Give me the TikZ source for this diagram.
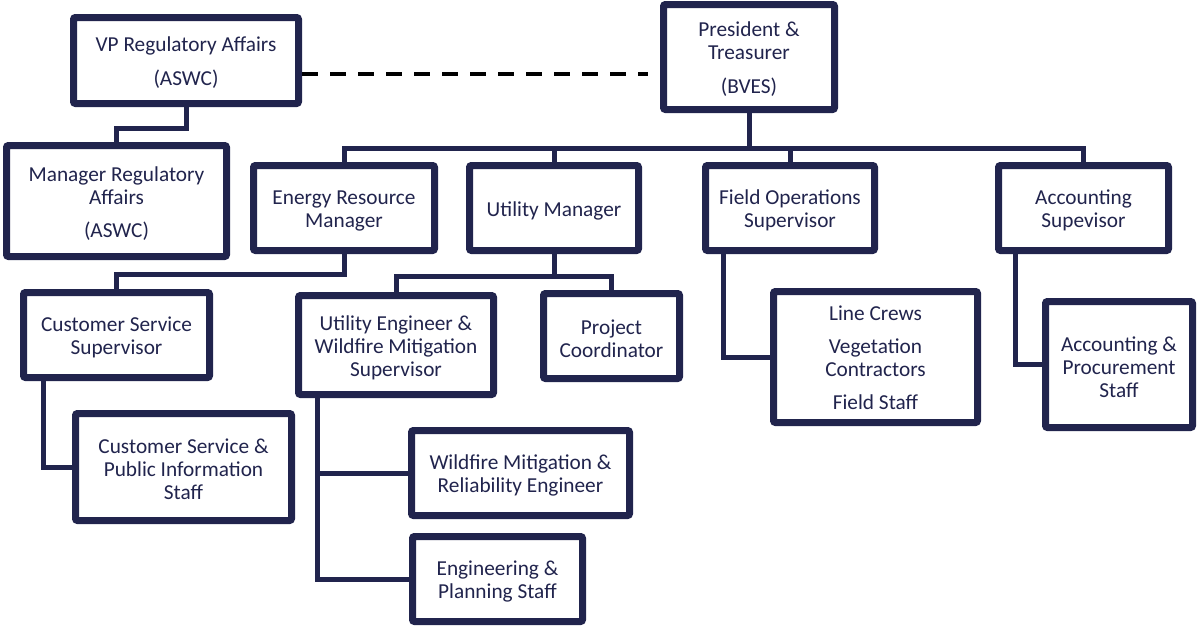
\documentclass[tikz,border=0pt]{standalone}
\usepackage{fontspec}
\setmainfont{Carlito}
\usetikzlibrary{shadows,calc}
\definecolor{navy}{HTML}{21244D}
\newcommand\obox[6][2.5]{%
  \node[box, minimum width=#4pt, minimum height=#5pt] (#2) at #3 {};
  \node[txt] (#2t) at ($(#2.center)+(0,#1)$) {#6};}
\begin{document}
\begin{tikzpicture}[x=1pt,y=-1pt,
  box/.style={draw=navy, line width=7pt, fill=white, rounded corners=2pt, inner sep=0pt,
    drop shadow={opacity=0.22, shadow xshift=1.5pt, shadow yshift=-3pt}},
  txt/.style={align=center, inner sep=0pt, text=navy, font=\fontsize{21.3}{23}\selectfont},
  conn/.style={draw=navy, line width=5pt},
  dashline/.style={draw=black, line width=4.5pt, dash pattern=on 16pt off 12pt}]
\path[use as bounding box] (0,0) rectangle (1197,627);

\obox{vp}{(186,60.5)}{225}{86}{VP Regulatory Affairs\\[11pt](ASWC)}
\obox{mra}{(116.5,201)}{220}{111}{Manager Regulatory\\Affairs\\[10pt](ASWC)}
\obox{pres}{(749,57)}{171}{105}{President \&\\Treasurer\\[11pt](BVES)}
\obox{erm}{(344,208)}{181}{85}{Energy Resource\\Manager}
\obox{um}{(554,208)}{169}{85}{Utility Manager}
\obox{fos}{(790,208)}{169}{85}{Field Operations\\Supervisor}
\obox{as}{(1083.5,208)}{170}{85}{Accounting\\Supevisor}
\obox{css}{(116.5,335)}{186}{85}{Customer Service\\Supervisor}
\obox{cspi}{(183.5,467)}{216}{107}{Customer Service \&\\Public Information\\Staff}
\obox{ue}{(396,345)}{195}{99}{Utility Engineer \&\\Wildfire Mitigation\\Supervisor}
\obox{pc}{(611.5,336)}{136}{85}{Project\\Coordinator}
\obox{wm}{(520.5,473)}{218}{85}{Wildfire Mitigation \&\\Reliability Engineer}
\obox{eps}{(497.5,579)}{170}{85}{Engineering \&\\Planning Staff}
\obox[0.5]{lc}{(875.5,357)}{204}{131}{Line Crews\\[10pt]Vegetation\\Contractors\\[10pt]Field Staff}
\obox{aps}{(1119,364.5)}{147}{126}{Accounting \&\\Procurement\\Staff}

\coordinate (busy) at (0,148);
\draw[conn] (pres.south) -- (pres.south |- busy);
\draw[conn] (erm.north) -- (erm.north |- busy) -| (as.north);
\draw[conn] (um.north) -- (um.north |- busy);
\draw[conn] (fos.north) -- (fos.north |- busy);

\coordinate (vpy) at (0,128);
\draw[conn] (vp.south) -- (vp.south |- vpy) -| (mra.north);

\coordinate (ermy) at (0,274);
\draw[conn] (erm.south) -- (erm.south |- ermy) -| (css.north);
\coordinate (umy) at (0,276);
\draw[conn] (um.south) -- (um.south |- umy);
\draw[conn] (ue.north) -- (ue.north |- umy) -| (pc.north);

\coordinate (cssx) at (43,0);
\draw[conn] (css.south -| cssx) |- (cspi.west);
\coordinate (uex) at (317.5,0);
\draw[conn] (ue.south -| uex) |- (eps.west);
\draw[conn] (uex |- wm.west) -- (wm.west);
\coordinate (fosx) at (723,0);
\draw[conn] (fos.south -| fosx) |- (lc.west);
\coordinate (asx) at (1015,0);
\draw[conn] (as.south -| asx) |- (aps.west);

\coordinate (dashend) at (648,74);
\draw[dashline] (vp.east |- dashend) -- (dashend);
\end{tikzpicture}
\end{document}
